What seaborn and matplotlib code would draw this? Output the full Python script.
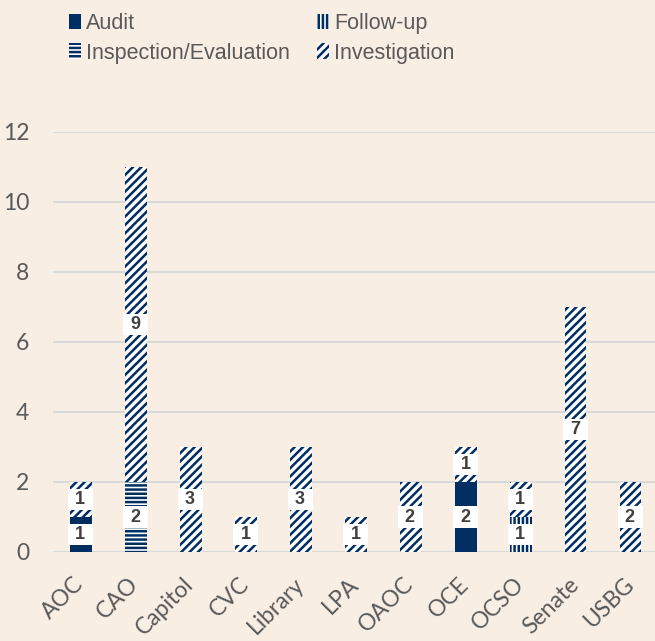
import matplotlib
matplotlib.use('Agg')
import matplotlib.pyplot as plt
from matplotlib.patches import Patch
import seaborn as sns
import pandas as pd
import numpy as np

offices = ['AOC', 'CAO', 'Capitol', 'CVC', 'Library', 'LPA', 'OAOC', 'OCE', 'OCSO', 'Senate', 'USBG']
audit = [1, 0, 0, 0, 0, 0, 0, 2, 0, 0, 0]
follow_up = [0, 0, 0, 0, 0, 0, 0, 0, 1, 0, 0]
inspection = [0, 2, 0, 0, 0, 0, 0, 0, 0, 0, 0]
investigation = [1, 9, 3, 1, 3, 1, 2, 1, 1, 7, 2]

series_names = ['Audit', 'Follow-up', 'Inspection/Evaluation', 'Investigation']
hatches = ['', '||||', '----', '////']

navy = '#002D62'
bg = '#F8EEE4'
grey_txt = '#595959'

df = pd.DataFrame({'office': offices, 'Audit': audit, 'Follow-up': follow_up,
                   'Inspection/Evaluation': inspection, 'Investigation': investigation})
cum = df[series_names].cumsum(axis=1)

sns.set_style('white')
plt.rcParams['font.family'] = ['Lato', 'DejaVu Sans']
plt.rcParams['hatch.linewidth'] = 1.8

fig = plt.figure(figsize=(6.55, 6.41), dpi=100, facecolor=bg)
ax = fig.add_axes([53 / 655, 89 / 641, 602 / 655, 420 / 641])
ax.set_facecolor(bg)

# draw from the top of the stack down so each lower layer covers the one above it
for i in range(len(series_names) - 1, -1, -1):
    name = series_names[i]
    face = navy if hatches[i] == '' else 'white'
    sns.barplot(x=df['office'], y=cum[name], color=face, saturation=1, width=0.4,
                hatch=hatches[i], edgecolor=navy, linewidth=0, ax=ax, zorder=3)

# segment labels
for j in range(len(offices)):
    base = 0
    for name in series_names:
        v = df.loc[j, name]
        if v > 0:
            ax.text(j, base + v / 2, ' {} '.format(v), ha='center', va='center',
                    fontsize=13, fontweight='bold', color='#404040',
                    family=['Liberation Sans', 'DejaVu Sans'], zorder=5,
                    bbox=dict(boxstyle='square,pad=0.12', fc='white', ec='none'))
        base += v

ax.set_ylim(0, 12)
ax.set_xlim(-0.5, -0.5 + 602 / 55)
ax.set_yticks(np.arange(0, 13, 2))
ax.yaxis.grid(True, color='#D9D9D9', linewidth=1.5, zorder=0)
ax.set_axisbelow(True)
for s in ax.spines.values():
    s.set_visible(False)
ax.set_xlabel('')
ax.set_ylabel('')
ax.tick_params(axis='both', length=0, labelsize=16.5, labelcolor=grey_txt)
ax.tick_params(axis='y', pad=17)
ax.tick_params(axis='x', pad=21)
for lab in ax.get_xticklabels():
    lab.set_rotation(45)
    lab.set_ha('right')
    lab.set_va('center')
    lab.set_rotation_mode('anchor')

# legend filled column-wise, so order it to read Audit, Follow-up / Inspection, Investigation by row
leg_order = [0, 2, 1, 3]
handles = [Patch(facecolor=navy if hatches[k] == '' else 'white', edgecolor=navy, linewidth=0,
                 hatch=hatches[k], label=series_names[k]) for k in leg_order]
fig.legend(handles=handles, loc='upper left', bbox_to_anchor=(69 / 655, 1 - 13 / 641), ncol=2,
           frameon=False, borderpad=0, borderaxespad=0, handlelength=0.55, handleheight=0.75,
           handletextpad=0.25, columnspacing=1.25, labelspacing=0.4,
           prop={'family': ['Liberation Sans', 'DejaVu Sans'], 'size': 15.5}, labelcolor=grey_txt)

fig.savefig('out.png', dpi=100, facecolor=bg)
